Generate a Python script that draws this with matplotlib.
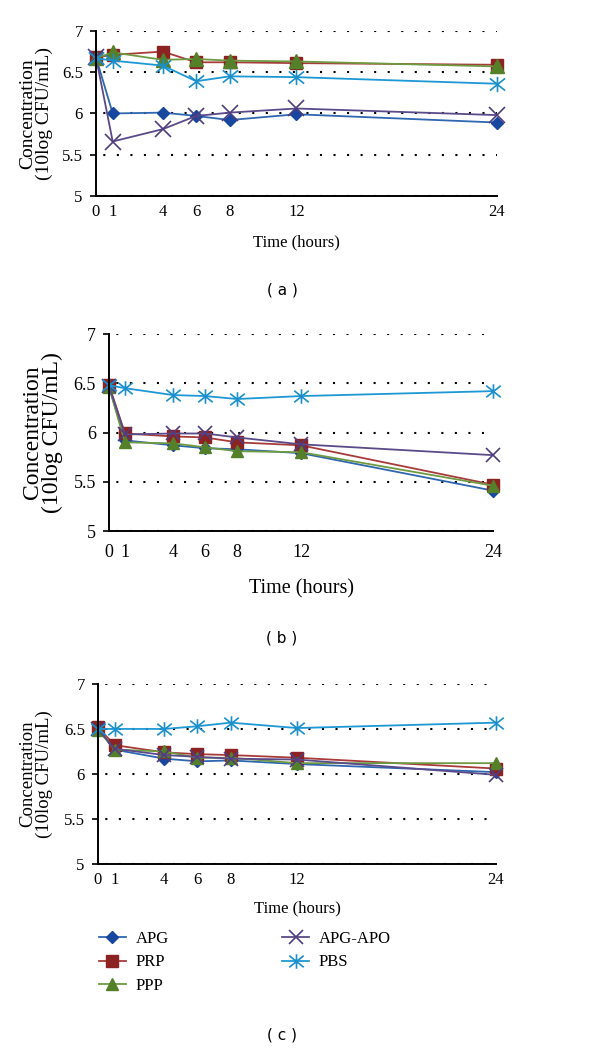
import matplotlib

matplotlib.use("Agg")
import matplotlib.pyplot as plt
from matplotlib.path import Path
from matplotlib.ticker import FuncFormatter

plt.rcParams.update({"font.family": "Liberation Serif"})

hours = [0, 1, 4, 6, 8, 12, 24]
series_names = ["APG", "PRP", "PPP", "APG-APO", "PBS"]

# panel (a)
a_apg = [6.68, 6.00, 6.01, 5.97, 5.92, 5.99, 5.89]
a_prp = [6.68, 6.71, 6.75, 6.62, 6.62, 6.61, 6.59]
a_ppp = [6.67, 6.74, 6.65, 6.66, 6.64, 6.63, 6.57]
a_apo = [6.68, 5.66, 5.81, 5.97, 6.01, 6.06, 5.98]
a_pbs = [6.67, 6.64, 6.58, 6.39, 6.45, 6.44, 6.36]

# panel (b)
b_apg = [6.47, 5.92, 5.87, 5.84, 5.83, 5.79, 5.41]
b_prp = [6.48, 5.99, 5.96, 5.95, 5.90, 5.87, 5.47]
b_ppp = [6.46, 5.90, 5.89, 5.85, 5.81, 5.80, 5.46]
b_apo = [6.47, 5.98, 5.99, 5.99, 5.95, 5.88, 5.77]
b_pbs = [6.48, 6.45, 6.38, 6.37, 6.34, 6.37, 6.42]

# panel (c)
c_apg = [6.50, 6.27, 6.17, 6.14, 6.15, 6.11, 6.02]
c_prp = [6.52, 6.32, 6.24, 6.22, 6.21, 6.18, 6.06]
c_ppp = [6.49, 6.27, 6.25, 6.18, 6.18, 6.12, 6.12]
c_apo = [6.50, 6.28, 6.21, 6.19, 6.17, 6.16, 5.99]
c_pbs = [6.50, 6.50, 6.50, 6.53, 6.57, 6.51, 6.57]

y_ticks = [5, 5.5, 6, 6.5, 7]

# excel-like asterisk: x plus a vertical bar
star = Path(
    [(-0.5, -0.4), (0.5, 0.4), (-0.5, 0.4), (0.5, -0.4), (0, -0.5), (0, 0.5)],
    [Path.MOVETO, Path.LINETO, Path.MOVETO, Path.LINETO, Path.MOVETO, Path.LINETO],
)

styles = {
    "APG": dict(color="#2f66b0", marker="D", mfc="#17479e", mec="#17479e"),
    "PRP": dict(color="#a83b3a", marker="s", mfc="#8c2222", mec="#8c2222"),
    "PPP": dict(color="#6e9a42", marker="^", mfc="#55802a", mec="#55802a"),
    "APG-APO": dict(color="#5a4a8a", marker="x", mfc="none", mec="#4f3d80"),
    "PBS": dict(color="#1e98d4", marker=star, mfc="none", mec="#1a8fcc"),
}


def draw_panel(ax, data, tick_fs, xlab_fs, ylab_fs, ylab_x, msize, xpad, lpad, letter, letter_y):
    base = {"D": 6.5, "s": 9, "^": 9.5, "x": 11, "*": 11}
    for name, vals in zip(series_names, data):
        st = dict(styles[name])
        key = st["marker"] if isinstance(st["marker"], str) else "*"
        ax.plot(hours, vals, lw=1.3, ms=base[key] * msize, mew=1.2 if key in "x*" else 1.0,
                clip_on=False, label=name, **st)
    ax.set_xlim(0, 24)
    ax.set_ylim(5, 7)
    ax.set_xticks(hours)
    ax.set_yticks(y_ticks)
    ax.yaxis.set_major_formatter(FuncFormatter(lambda v, p: f"{v:g}"))
    ax.tick_params(axis="x", length=0, pad=xpad, labelsize=tick_fs)
    ax.tick_params(axis="y", length=4.5, width=1.2, pad=5, labelsize=tick_fs, direction="out")
    for side in ("top", "right"):
        ax.spines[side].set_visible(False)
    for side in ("left", "bottom"):
        ax.spines[side].set_linewidth(1.4)
    ax.grid(axis="y", color="black", lw=1.5, linestyle=(3, (1, 5.5)))
    ax.set_axisbelow(True)
    ax.set_xlabel("Time (hours)", fontsize=xlab_fs, labelpad=lpad)
    ax.text(ylab_x, 0.5, "Concentration\n(10log CFU/mL)", transform=ax.transAxes,
            rotation=90, ha="center", va="center", fontsize=ylab_fs, linespacing=0.95,
            multialignment="center")
    fig.text(0.47, letter_y, f"( {letter} )", family="DejaVu Sans", fontsize=11,
             ha="center", va="center")


fig = plt.figure(figsize=(6, 10.49), dpi=100)
ax_a = fig.add_axes([0.160, 0.8132, 0.6683, 0.1573])
ax_b = fig.add_axes([0.1817, 0.4938, 0.640, 0.1878])
ax_c = fig.add_axes([0.1633, 0.1764, 0.6633, 0.1716])

draw_panel(ax_a, [a_apg, a_prp, a_ppp, a_apo, a_pbs], 12, 12, 14, -0.150, 1.0, 6, 10,
           "a", 1 - 290 / 1049)
draw_panel(ax_b, [b_apg, b_prp, b_ppp, b_apo, b_pbs], 13, 14.5, 17, -0.174, 0.95, 9.5, 13,
           "b", 1 - 638 / 1049)
draw_panel(ax_c, [c_apg, c_prp, c_ppp, c_apo, c_pbs], 12, 12, 13.5, -0.155, 0.95, 6, 9,
           "c", 1 - 1035 / 1049)

handles, labels = ax_c.get_legend_handles_labels()
fig.legend(handles, labels, loc="upper left", bbox_to_anchor=(0.165, 1 - 931 / 1049),
           ncol=2, frameon=False, fontsize=12, handlelength=1.6, handletextpad=0.6,
           columnspacing=6.8, labelspacing=0.45, borderpad=0, borderaxespad=0)

fig.savefig("out.png", dpi=100)
